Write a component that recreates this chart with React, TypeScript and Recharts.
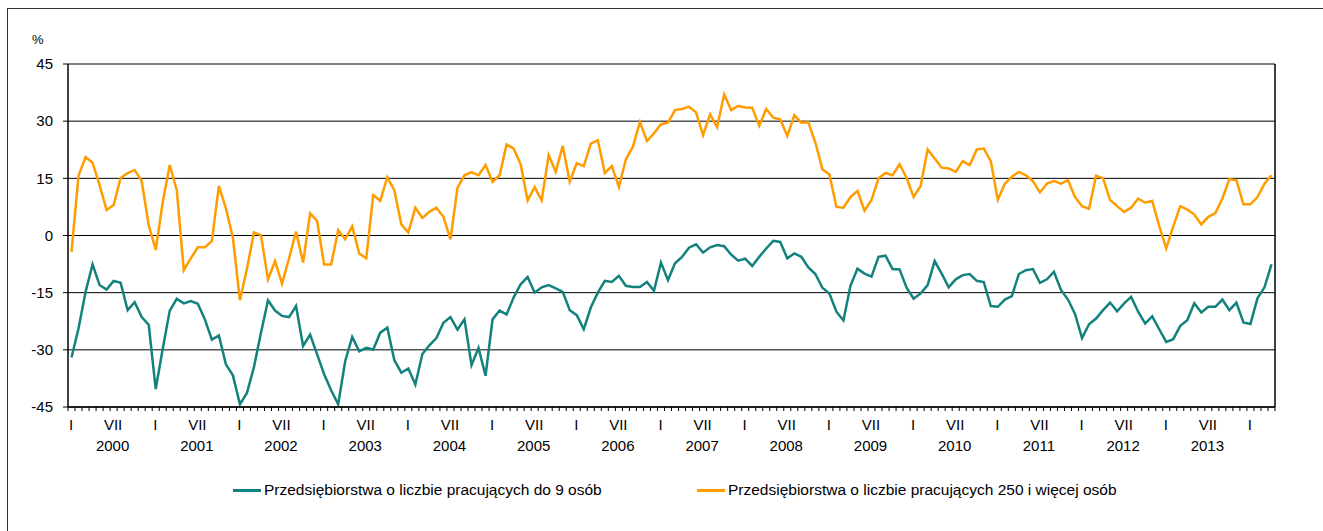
import React from "react";
import { LineChart, Line, XAxis, YAxis, CartesianGrid, ReferenceLine } from "recharts";

// Monthly values, Jan 2000 .. Apr 2014 (%)
const smallFirms: number[] = [
  -32.0, -24.4, -14.8, -7.6, -13.0, -14.2, -11.9, -12.4, -19.6, -17.5, -21.4, -23.4, // 2000
  -40.3, -29.7, -19.7, -16.6, -17.8, -17.2, -17.9, -22.0, -27.3, -26.2, -33.8, -36.7, // 2001
  -44.3, -41.3, -34.5, -25.5, -17.0, -19.7, -21.1, -21.4, -18.5, -29.0, -26.0, -31.2, // 2002
  -36.4, -40.6, -44.3, -33.0, -26.6, -30.4, -29.5, -29.9, -25.5, -24.2, -32.7, -36.0, // 2003
  -34.9, -39.1, -31.1, -28.8, -26.9, -22.9, -21.4, -24.7, -22.0, -34.0, -29.5, -36.8, // 2004
  -22.0, -19.7, -20.7, -16.3, -12.8, -10.9, -15.0, -13.6, -13.0, -13.9, -14.8, -19.6, // 2005
  -20.9, -24.6, -18.9, -15.0, -11.9, -12.2, -10.6, -13.2, -13.5, -13.5, -12.2, -14.5, // 2006
  -7.1, -11.7, -7.3, -5.6, -3.2, -2.3, -4.5, -3.1, -2.5, -2.8, -5.0, -6.6, // 2007
  -6.1, -8.0, -5.6, -3.4, -1.4, -1.7, -6.0, -4.7, -5.6, -8.4, -10.1, -13.7, // 2008
  -15.2, -20.0, -22.3, -13.2, -8.7, -10.0, -10.8, -5.6, -5.3, -8.8, -8.9, -13.7, // 2009
  -16.6, -15.2, -13.0, -6.7, -10.0, -13.6, -11.5, -10.4, -10.1, -11.9, -12.2, -18.5, // 2010
  -18.7, -16.8, -15.9, -10.1, -9.1, -8.8, -12.4, -11.5, -9.5, -14.3, -16.8, -20.6, // 2011
  -26.9, -23.3, -21.8, -19.6, -17.6, -19.9, -17.8, -16.1, -20.0, -23.1, -21.2, -24.6, // 2012
  -27.9, -27.2, -23.7, -22.2, -17.8, -20.2, -18.7, -18.7, -16.8, -19.6, -17.6, -22.8, // 2013
  -23.2, -16.5, -13.6, -7.6, // 2014
];

const largeFirms: number[] = [
  -4.3, 15.7, 20.6, 19.1, 13.2, 6.7, 8.0, 15.1, 16.4, 17.2, 14.3, 2.7, // 2000
  -3.8, 8.8, 18.5, 11.9, -9.1, -6.0, -3.1, -3.1, -1.4, 13.0, 7.1, -0.6, // 2001
  -17.0, -8.7, 0.8, 0.1, -11.5, -6.7, -12.6, -6.0, 1.0, -7.1, 5.8, 3.8, // 2002
  -7.6, -7.6, 1.4, -1.0, 2.4, -4.7, -6.0, 10.6, 9.1, 15.3, 11.9, 2.9, // 2003
  0.8, 7.3, 4.6, 6.2, 7.3, 4.9, -1.0, 12.5, 15.8, 16.6, 15.8, 18.5, // 2004
  14.1, 15.8, 23.9, 22.8, 18.7, 9.2, 12.7, 9.2, 21.1, 16.7, 23.5, 14.1, // 2005
  19.0, 18.2, 24.1, 25.0, 16.4, 18.2, 12.7, 20.0, 23.3, 29.8, 24.8, 26.8, // 2006
  29.2, 29.6, 32.9, 33.2, 33.8, 32.3, 26.3, 31.8, 28.4, 37.0, 32.9, 34.0, // 2007
  33.6, 33.5, 28.8, 33.2, 30.9, 30.5, 26.1, 31.6, 29.6, 29.7, 24.4, 17.4, // 2008
  16.0, 7.5, 7.3, 10.1, 11.7, 6.5, 9.3, 15.0, 16.4, 15.8, 18.7, 15.1, // 2009
  10.1, 13.0, 22.6, 20.2, 17.8, 17.6, 16.7, 19.5, 18.5, 22.6, 22.8, 19.5, // 2010
  9.4, 13.6, 15.4, 16.7, 15.8, 14.3, 11.3, 13.6, 14.3, 13.6, 14.5, 10.1, // 2011
  7.7, 7.0, 15.7, 15.0, 9.3, 7.7, 6.2, 7.3, 9.7, 8.6, 9.1, 2.5, // 2012
  -3.4, 2.4, 7.7, 6.8, 5.5, 2.9, 4.9, 5.9, 9.7, 14.8, 14.5, 8.2, // 2013
  8.2, 10.1, 13.6, 15.8, // 2014
];

const monthLabels = ["I", "", "", "", "", "", "VII", "", "", "", "", ""];
const years = [2000, 2001, 2002, 2003, 2004, 2005, 2006, 2007, 2008, 2009, 2010, 2011, 2012, 2013, 2014];
const yTicks = [-45, -30, -15, 0, 15, 30, 45];

const seriesNames = {
  small: "Przedsiębiorstwa o liczbie pracujących do 9 osób",
  large: "Przedsiębiorstwa o liczbie pracujących 250 i więcej osób",
};

const C = {
  teal: "#13827E",
  orange: "#FF9C00",
  axis: "#000",
  text: "#000",
};

const FONT = "'Liberation Sans', Arial, sans-serif";
const W = 1323;
const H = 531;
const M = { top: 64, right: 48, left: 0, bottom: 0 };
const Y_AXIS_W = 68;
const X_AXIS_H = 124;
const N = smallFirms.length;
const STEP = (W - Y_AXIS_W - M.right) / N;

const data = smallFirms.map((v, i) => ({ i, small: v, large: largeFirms[i] }));
const xTicks = data.map((d) => d.i);

// eslint-disable-next-line @typescript-eslint/no-explicit-any
function MonthTick({ x, y, payload }: any) {
  const i = payload.value as number;
  const m = i % 12;
  const half = STEP / 2;
  return (
    <g>
      <line x1={x - half} x2={x - half} y1={y} y2={y + 4} stroke={C.axis} />
      {i === N - 1 && <line x1={x + half} x2={x + half} y1={y} y2={y + 4} stroke={C.axis} />}
      {monthLabels[m] && (
        <text x={x - 0.5} y={y + 23} textAnchor="middle" fill={C.text} fontSize={15} fontFamily={FONT}>
          {monthLabels[m]}
        </text>
      )}
      {m === 6 && (
        <text x={x - 1} y={y + 44} textAnchor="middle" fill={C.text} fontSize={15} fontFamily={FONT}>
          {years[Math.floor(i / 12)]}
        </text>
      )}
    </g>
  );
}

function LegendItem({ color, label, left }: { color: string; label: string; left: number }) {
  return (
    <div style={{ position: "absolute", left, top: 482, display: "flex", alignItems: "center", whiteSpace: "nowrap" }}>
      <span style={{ width: 28, height: 3, background: color, display: "inline-block" }} />
      <span style={{ marginLeft: 3, fontSize: 15.5, lineHeight: "16px", color: C.text, fontFamily: FONT }}>{label}</span>
    </div>
  );
}

export default function App() {
  return (
    <div style={{ position: "absolute", left: 0, top: 0, width: W, height: H, background: "#fff", overflow: "hidden" }}>
      <div
        style={{
          position: "absolute",
          left: 7,
          top: 8,
          width: W,
          height: H,
          borderLeft: "1px solid #333",
          borderTop: "1px solid #333",
        }}
      />
      <div style={{ position: "absolute", left: 32, top: 33, fontSize: 13, lineHeight: 1, fontFamily: FONT, color: C.text }}>
        %
      </div>
      <div style={{ position: "absolute", left: 0, top: 0 }}>
        <LineChart width={W} height={H} data={data} margin={M}>
          <CartesianGrid horizontal vertical={false} stroke="#000" strokeWidth={1} />
          <XAxis
            dataKey="i"
            type="number"
            domain={[-0.5, N - 0.5]}
            allowDataOverflow
            ticks={xTicks}
            interval={0}
            tick={<MonthTick />}
            tickLine={false}
            tickSize={0}
            tickMargin={0}
            height={X_AXIS_H}
            axisLine={{ stroke: C.axis, strokeWidth: 1.5 }}
          />
          <YAxis
            domain={[-45, 45]}
            ticks={yTicks}
            interval={0}
            width={Y_AXIS_W}
            tickSize={5}
            tickMargin={10}
            tickLine={{ stroke: C.axis }}
            axisLine={{ stroke: C.axis, strokeWidth: 1.5 }}
            tick={{ fill: C.text, fontSize: 15, fontFamily: FONT }}
          />
          <ReferenceLine x={N - 0.5} stroke={C.axis} strokeWidth={1.5} />
          <Line
            dataKey="small"
            name={seriesNames.small}
            stroke={C.teal}
            strokeWidth={2.5}
            dot={false}
            type="linear"
            isAnimationActive={false}
          />
          <Line
            dataKey="large"
            name={seriesNames.large}
            stroke={C.orange}
            strokeWidth={2.5}
            dot={false}
            type="linear"
            isAnimationActive={false}
          />
        </LineChart>
      </div>
      <LegendItem color={C.teal} label={seriesNames.small} left={233} />
      <LegendItem color={C.orange} label={seriesNames.large} left={697} />
    </div>
  );
}
